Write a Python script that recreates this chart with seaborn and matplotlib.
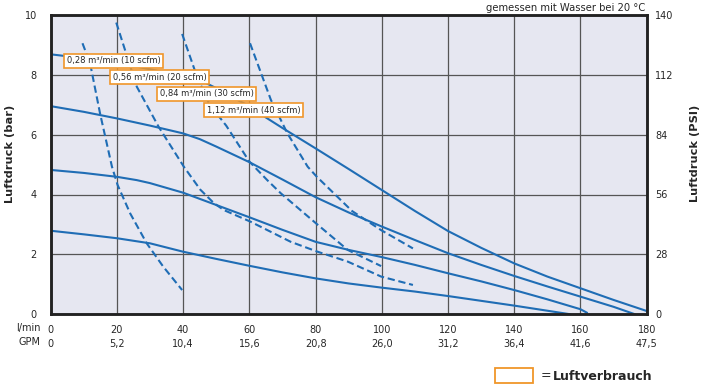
import numpy as np
import pandas as pd
import matplotlib
matplotlib.use("Agg")
import matplotlib.pyplot as plt
from matplotlib.patches import Rectangle
import seaborn as sns

# flow axis ticks (l/min) and matching GPM labels
lmin_ticks = [0, 20, 40, 60, 80, 100, 120, 140, 160, 180]
gpm_labels = ["0", "5,2", "10,4", "15,6", "20,8", "26,0", "31,2", "36,4", "41,6", "47,5"]
bar_ticks = [0, 2, 4, 6, 8, 10]
psi_ticks = [0, 28, 56, 84, 112, 140]

# pressure curves (solid)
p1_x = [0, 10, 20, 30, 40, 46, 50, 56, 60, 65, 70, 80, 90, 100, 110, 120, 130, 140, 150, 160, 170, 180]
p1_y = [8.68, 8.55, 8.4, 8.18, 7.95, 7.77, 7.55, 7.18, 6.95, 6.57, 6.22, 5.54, 4.85, 4.15, 3.45, 2.78, 2.22, 1.70, 1.26, 0.87, 0.48, 0.11]
p2_x = [0, 10, 20, 30, 40, 45, 50, 60, 70, 80, 90, 100, 110, 120, 130, 140, 150, 160, 170, 176.5]
p2_y = [6.95, 6.76, 6.54, 6.3, 6.04, 5.85, 5.6, 5.08, 4.5, 3.91, 3.4, 2.93, 2.48, 2.04, 1.65, 1.28, 0.93, 0.59, 0.25, 0]
p3_x = [0, 10, 20, 26, 30, 40, 50, 60, 70, 80, 90, 100, 110, 120, 130, 140, 150, 160, 162]
p3_y = [4.82, 4.72, 4.59, 4.48, 4.38, 4.06, 3.65, 3.24, 2.82, 2.42, 2.15, 1.91, 1.65, 1.37, 1.1, 0.81, 0.5, 0.17, 0.05]
p4_x = [0, 10, 20, 30, 40, 50, 60, 70, 80, 90, 100, 110, 120, 130, 140, 150, 157]
p4_y = [2.79, 2.67, 2.54, 2.37, 2.09, 1.85, 1.62, 1.4, 1.2, 1.03, 0.89, 0.76, 0.61, 0.45, 0.29, 0.12, 0]

# air consumption curves (dashed)
a10_x = [9.6, 11.9, 14.9, 18.5, 20.2, 24, 29, 34, 39.7]
a10_y = [9.05, 8.38, 6.71, 4.93, 4.32, 3.37, 2.37, 1.59, 0.81]
a20_x = [19.8, 26, 32.6, 40.2, 45.2, 49.3, 52.3, 60.4, 72.5, 80.6, 89.7, 99.8, 109.4]
a20_y = [9.74, 7.6, 6.26, 4.93, 4.16, 3.71, 3.48, 3.09, 2.42, 2.09, 1.76, 1.26, 0.98]
a30_x = [39.7, 44.2, 48, 53, 60, 65.4, 69.5, 80.1, 89.7, 99.8]
a30_y = [9.36, 7.93, 7.0, 6.3, 5.1, 4.48, 4.04, 3.04, 2.15, 1.61]
a40_x = [60.2, 66.5, 71.5, 77.6, 80.3, 91, 99.8, 109.4]
a40_y = [9.05, 7.16, 6.04, 4.93, 4.6, 3.45, 2.81, 2.2]

# labels of air consumption boxes (left edge x, centre y)
air_labels = ["0,28 m³/min (10 scfm)", "0,56 m³/min (20 scfm)",
              "0,84 m³/min (30 scfm)", "1,12 m³/min (40 scfm)"]
air_label_x = [3.8, 17.8, 31.9, 46.1]
air_label_y = [8.46, 7.91, 7.37, 6.82]

blue = "#1f6db5"
orange = "#f0962a"

sns.set_style("white", {"axes.facecolor": "#e6e7f1"})
plt.rcParams["font.family"] = ["DejaVu Sans"]

fig = plt.figure(figsize=(7.05, 3.89), dpi=100)
ax = fig.add_axes([0.0719, 0.192, 0.8454, 0.770])

for xs, ys in [(p1_x, p1_y), (p2_x, p2_y), (p3_x, p3_y), (p4_x, p4_y)]:
    sns.lineplot(x=xs, y=ys, ax=ax, color=blue, lw=1.5, estimator=None, sort=False)

for xs, ys in [(a10_x, a10_y), (a20_x, a20_y), (a30_x, a30_y), (a40_x, a40_y)]:
    sns.lineplot(x=xs, y=ys, ax=ax, color=blue, lw=1.5, estimator=None, sort=False,
                 linestyle=(0, (3.5, 1.8)))

ax.set_xlim(0, 180)
ax.set_ylim(0, 10)
ax.set_xticks(lmin_ticks)
ax.set_xticklabels([f"{a}\n{b}" for a, b in zip(lmin_ticks, gpm_labels)], linespacing=1.5)
ax.set_yticks(bar_ticks)
ax.tick_params(axis="x", length=0, pad=8, labelsize=7)
ax.tick_params(axis="y", length=0, pad=10, labelsize=7)
ax.grid(True, color="#555555", lw=0.9)
ax.set_axisbelow(True)
for s in ax.spines.values():
    s.set_color("#222222")
    s.set_linewidth(1.8)

ax2 = ax.twinx()
ax2.set_ylim(0, 140)
ax2.set_yticks(psi_ticks)
ax2.tick_params(axis="y", length=0, pad=6, labelsize=7)
for s in ax2.spines.values():
    s.set_color("#222222")
    s.set_linewidth(1.8)

for txt, x, y in zip(air_labels, air_label_x, air_label_y):
    ax.text(x + 1.0, y, txt, fontsize=6, ha="left", va="center", zorder=5,
            bbox=dict(boxstyle="square,pad=0.3", fc="white", ec=orange, lw=1.2))

ax.annotate("l/min\nGPM", xy=(0, 0), xycoords="axes fraction", xytext=(-7, -6),
            textcoords="offset points", ha="right", va="top", fontsize=7,
            linespacing=1.5, multialignment="right")

fig.text(10 / 705, 0.604, "Luftdruck (bar)", rotation=90, ha="center", va="center",
         fontsize=8.2, fontweight="bold")
fig.text(695 / 705, 0.606, "Luftdruck (PSI)", rotation=90, ha="center", va="center",
         fontsize=8.2, fontweight="bold")
fig.text(645 / 705, 1 - 8 / 389, "gemessen mit Wasser bei 20 °C", ha="right", va="center",
         fontsize=7.2)

fig.patches.append(Rectangle((495 / 705, 6 / 389), 38 / 705, 15 / 389, transform=fig.transFigure,
                             fc="white", ec=orange, lw=1.3))
fig.text(541 / 705, 1 - 376 / 389, "=", ha="left", va="center", fontsize=9)
fig.text(553 / 705, 1 - 376 / 389, "Luftverbrauch", ha="left", va="center", fontsize=9,
         fontweight="bold")

fig.savefig("out.png", dpi=100, facecolor="white")
